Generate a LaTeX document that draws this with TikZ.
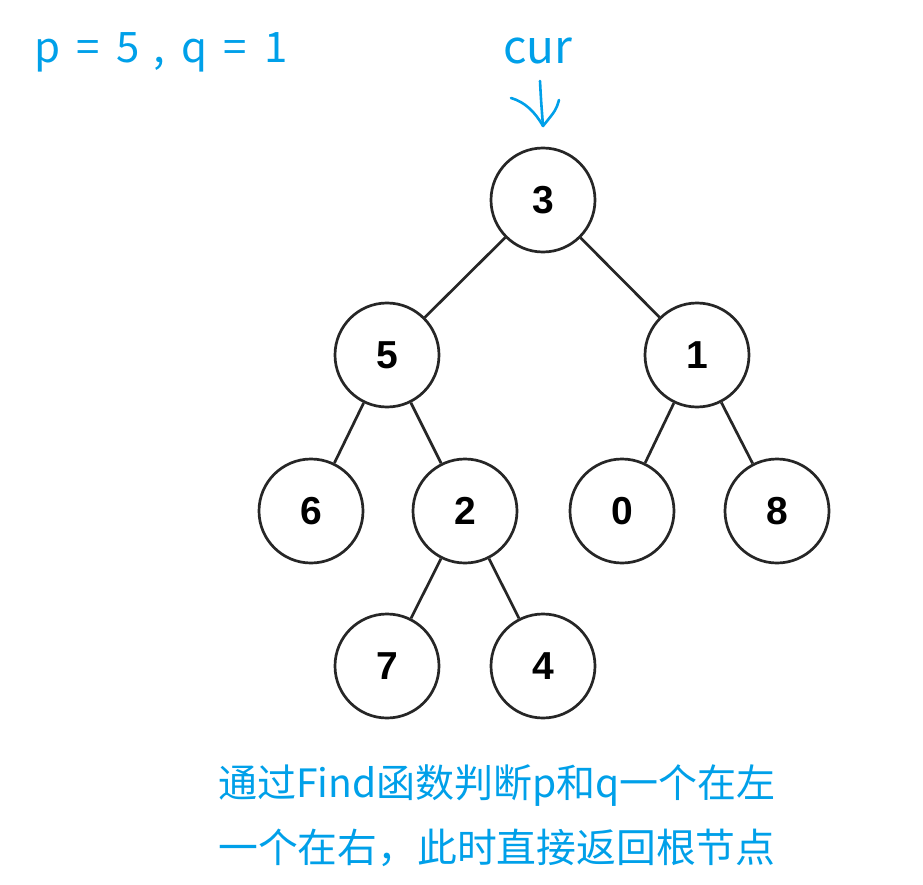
\documentclass[tikz,border=0pt]{standalone}
\usepackage{fontspec}
\setmainfont{Liberation Sans}
\newfontfamily\cjk{Noto Sans CJK SC}
\definecolor{annblue}{RGB}{0,160,233}
\tikzset{
  tnode/.style={circle, draw=black!85, line width=2.7pt, minimum size=104pt, inner sep=0pt,
    font=\fontsize{39}{39}\selectfont\bfseries},
  tedge/.style={draw=black!85, line width=2.7pt},
  ann/.style={text=annblue, inner sep=0pt},
  pqtext/.style={ann, anchor=base, font=\cjk\fontsize{42}{42}\selectfont},
  hand/.style={draw=annblue, line width=2.6pt, line cap=round, line join=round}
}
\begin{document}
\begin{tikzpicture}[x=1pt, y=-1pt]
\useasboundingbox[fill=white] (0,0) rectangle (923,885);
\node[tnode] (n3) at (543,200) {3};
\node[tnode] (n5) at (387,355) {5};
\node[tnode] (n1) at (697,355) {1};
\node[tnode] (n6) at (311,511) {6};
\node[tnode] (n2) at (465,511) {2};
\node[tnode] (n0) at (622,511) {0};
\node[tnode] (n8) at (777,511) {8};
\node[tnode] (n7) at (387,666) {7};
\node[tnode] (n4) at (543,666) {4};
\path[tedge] (n3) -- (n5);
\path[tedge] (n3) -- (n1);
\path[tedge] (n5) -- (n6);
\path[tedge] (n5) -- (n2);
\path[tedge] (n1) -- (n0);
\path[tedge] (n1) -- (n8);
\path[tedge] (n2) -- (n7);
\path[tedge] (n2) -- (n4);
\node[pqtext] (pp) at (47.5,63) {p};
\node[pqtext] (pe1) at (88,63) {=};
\node[pqtext] (p5) at (128.5,63) {5};
\node[pqtext] (pc) at (159,63) {,};
\node[pqtext] (pq) at (194.5,63) {q};
\node[pqtext] (pe2) at (235.5,63) {=};
\node[pqtext] (p1) at (276,63) {1};
\node[ann, anchor=base, font=\cjk\fontsize{46}{46}\selectfont] (cur) at (538,64) {cur};
\coordinate (atop) at (540,81);
\coordinate (atip) at (543,126);
\coordinate (lw) at (511,98);
\coordinate (rw) at (559,100);
\path[hand] (atop) .. controls (541,100) .. (atip);
\path[hand] (lw) .. controls (525,102) and (535,112) .. (atip);
\path[hand] (rw) .. controls (556,110) .. (atip);
\node[ann, anchor=base west, font=\cjk\fontsize{39}{39}\selectfont] (l1) at (218,797) {通过Find函数判断p和q一个在左};
\node[ann, anchor=base west, font=\cjk\fontsize{39.8}{39.8}\selectfont] (l2) at (218,862) {一个在右，此时直接返回根节点};
\end{tikzpicture}
\end{document}
